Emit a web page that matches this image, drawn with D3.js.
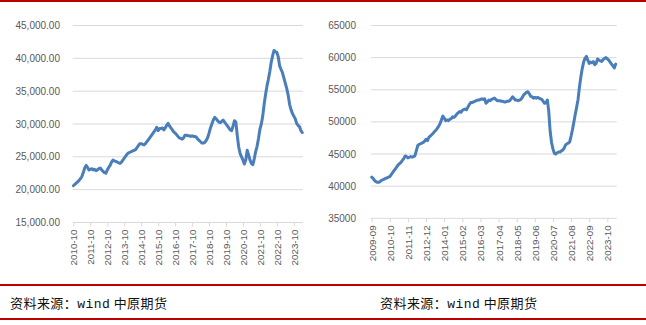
<!DOCTYPE html>
<html>
<head>
<meta charset="utf-8">
<script src="https://cdn.jsdelivr.net/npm/d3@7"></script>
<style>
  body { margin: 0; background: #fff; }
  .tick text, .ylab { font-family: "Liberation Sans", Arial, sans-serif; fill: #595959; }
  .src { font-family: "Noto Sans CJK SC", sans-serif; fill: #111; }
</style>
</head>
<body>
<svg id="chart" width="646" height="325"></svg>
<script>
// left chart: monthly, starting 2010-10
const leftStart = [2010, 10];
const leftValues = [
  20600, 20800, 21000, 21200, 21400, 21700, 22000, 22600, 23300, 23700, 23400, 23000,
  23100, 23200, 23000, 23100, 22900, 23000, 23200, 23300, 23000, 22800, 22600, 22500,
  23000, 23400, 23700, 24200, 24500, 24400, 24300, 24200, 24100, 24000, 24200, 24500,
  24800, 25100, 25400, 25600, 25700, 25800, 25900, 26000, 26100, 26400, 26700, 27000,
  27000, 26900, 26800, 27000, 27300, 27600, 27900, 28200, 28500, 28800, 29100, 29500,
  29000, 29300, 29300, 29400, 29100, 29400, 29800, 30100, 29700, 29400, 29100, 28800,
  28600, 28400, 28100, 27900, 27800, 27700, 27900, 28300, 28300, 28200, 28200, 28100,
  28200, 28100, 28100, 28000, 27700, 27500, 27300, 27100, 27100, 27200, 27500, 27900,
  28600, 29400, 30000, 30600, 31000, 30800, 30500, 30300, 30200, 30400, 30600, 30300,
  30000, 29700, 29400, 29100, 29000, 29700, 30500, 30300, 28200, 26500, 25500, 25000,
  24500, 23900, 24500, 26000, 25300, 24500, 24000, 23800, 24700, 25800, 26600, 27800,
  29200, 30000, 31200, 33000, 34500, 35800, 36800, 38000, 39400, 40400, 41200, 41000,
  40900, 40200, 38800, 38300, 37800, 37000, 36200, 35400, 34400, 33000, 32200, 31600,
  31200, 30800, 30100, 29800, 29600, 29000, 28700
];
const leftTicks = [15000, 20000, 25000, 30000, 35000, 40000, 45000];

// right chart: monthly, starting 2009-09
const rightStart = [2009, 9];
const rightValues = [
  41400, 41200, 40900, 40700, 40600, 40600, 40700, 40900, 41000, 41100, 41200, 41300,
  41400, 41500, 41800, 42100, 42400, 42700, 43000, 43300, 43500, 43700, 44000, 44300,
  44700, 44600, 44400, 44500, 44600, 44500, 44600, 44700, 45500, 46300, 46500, 46600,
  46700, 46800, 47000, 47300, 47100, 47600, 47800, 48000, 48200, 48500, 48700, 49000,
  49300, 49700, 50300, 50900, 50600, 50200, 50300, 50200, 50400, 50500, 50800, 50700,
  50900, 51200, 51400, 51600, 51500, 51800, 51900, 52000, 51900, 52300, 52700, 53000,
  53000, 53100, 53200, 53300, 53400, 53400, 53500, 53600, 53500, 53600, 52900, 53100,
  53400, 53300, 53500, 53600, 53700, 53500, 53300, 53300, 53300, 53200, 53200, 53100,
  53100, 53200, 53200, 53300, 53600, 53900, 53700, 53400, 53400, 53300, 53400, 53500,
  53800, 54200, 54400, 54600, 54700, 54400, 54000, 53900, 53700, 53800, 53700, 53800,
  53700, 53600, 53500, 53200, 52900, 53000, 53400, 51600, 48500, 46800, 45800, 45100,
  45000, 45200, 45300, 45300, 45500, 45600, 45900, 46400, 46600, 46700, 46900, 47800,
  48800, 50000, 51200, 52300, 53500, 55400, 57000, 58300, 59300, 59900, 60200, 59600,
  59100, 59300, 59200, 59400, 58900, 59100, 59800, 59600, 59500, 59400, 59700, 59900,
  60000, 59800, 59600, 59300, 59000, 58700, 58400, 59000
];
const rightTicks = [35000, 40000, 45000, 50000, 55000, 60000, 65000];

// source note, split so the latin part can be set monospaced
const sourceParts = ['资料来源：', 'wind', ' 中原期货'];

function monthLabels(start, n) {
  let out = [];
  for (let k = 0; k < n; k++) {
    let m = start[1] - 1 + k;
    let y = start[0] + Math.floor(m / 12);
    out.push(y + '-' + String(m % 12 + 1).padStart(2, '0'));
  }
  return out;
}

let svg = d3.select('#chart');

function drawChart(cfg) {
  let labels = monthLabels(cfg.start, cfg.values.length);
  let x = d3.scalePoint().domain(labels).range(cfg.xRange);
  let y = d3.scaleLinear().domain(d3.extent(cfg.ticks)).range([cfg.bottom, cfg.top]);
  let g = svg.append('g');

  // gridlines
  g.append('g').selectAll('line')
    .data(cfg.ticks.slice(1))
    .enter().append('line')
    .attr('x1', cfg.left).attr('x2', cfg.right)
    .attr('y1', d => y(d)).attr('y2', d => y(d))
    .attr('stroke', '#d9d9d9').attr('stroke-width', 1);

  // y labels
  g.append('g').selectAll('text')
    .data(cfg.ticks)
    .enter().append('text')
    .attr('class', 'ylab')
    .attr('x', cfg.labelX).attr('y', d => y(d))
    .attr('dy', '0.35em')
    .attr('text-anchor', 'end')
    .style('font-size', '10px')
    .text(cfg.format);

  // x axis
  let xAxis = d3.axisBottom(x)
    .tickValues(labels.filter((d, i) => i % cfg.every === 0))
    .tickSize(4)
    .tickSizeOuter(0);
  let ax = g.append('g')
    .attr('transform', `translate(0,${cfg.bottom})`)
    .call(xAxis);
  ax.select('.domain').remove();
  ax.append('line')
    .attr('x1', cfg.left).attr('x2', cfg.right)
    .attr('stroke', '#d9d9d9');
  ax.selectAll('.tick line').attr('stroke', '#d9d9d9');
  ax.selectAll('.tick text')
    .style('font-size', '9.8px')
    .attr('text-anchor', 'end')
    .attr('transform', 'rotate(-90)')
    .attr('x', -7).attr('y', 0).attr('dy', '0.35em');

  // series line
  let line = d3.line()
    .x((d, i) => x(labels[i]))
    .y(d => y(d));
  g.append('path')
    .datum(cfg.values)
    .attr('d', line)
    .attr('fill', 'none')
    .attr('stroke', '#4a7ebb')
    .attr('stroke-width', 3)
    .attr('stroke-linejoin', 'round')
    .attr('stroke-linecap', 'round');
}

drawChart({
  start: leftStart, values: leftValues, ticks: leftTicks,
  left: 72.7, right: 303, top: 25.5, bottom: 222.5,
  xRange: [73.4, 302.3], labelX: 60, every: 12,
  format: d3.format(',.2f')
});

drawChart({
  start: rightStart, values: rightValues, ticks: rightTicks,
  left: 371, right: 616.7, top: 25.5, bottom: 218.3,
  xRange: [371.7, 615.7], labelX: 356, every: 13,
  format: d3.format('d')
});

// red rules
[1, 285, 319].forEach(yy => {
  svg.append('rect')
    .attr('x', 0).attr('y', yy - 1)
    .attr('width', 646).attr('height', 2)
    .attr('fill', '#c00000');
});

// source notes
[10, 380].forEach(xx => {
  let t = svg.append('text')
    .attr('class', 'src')
    .attr('x', xx).attr('y', 308)
    .style('font-size', '13px')
    .attr('textLength', 157)
    .attr('lengthAdjust', 'spacing');
  sourceParts.forEach((s, i) => {
    t.append('tspan')
      .style('font-family', i === 1 ? '"Liberation Mono", monospace' : null)
      .text(s);
  });
});
</script>
</body>
</html>
